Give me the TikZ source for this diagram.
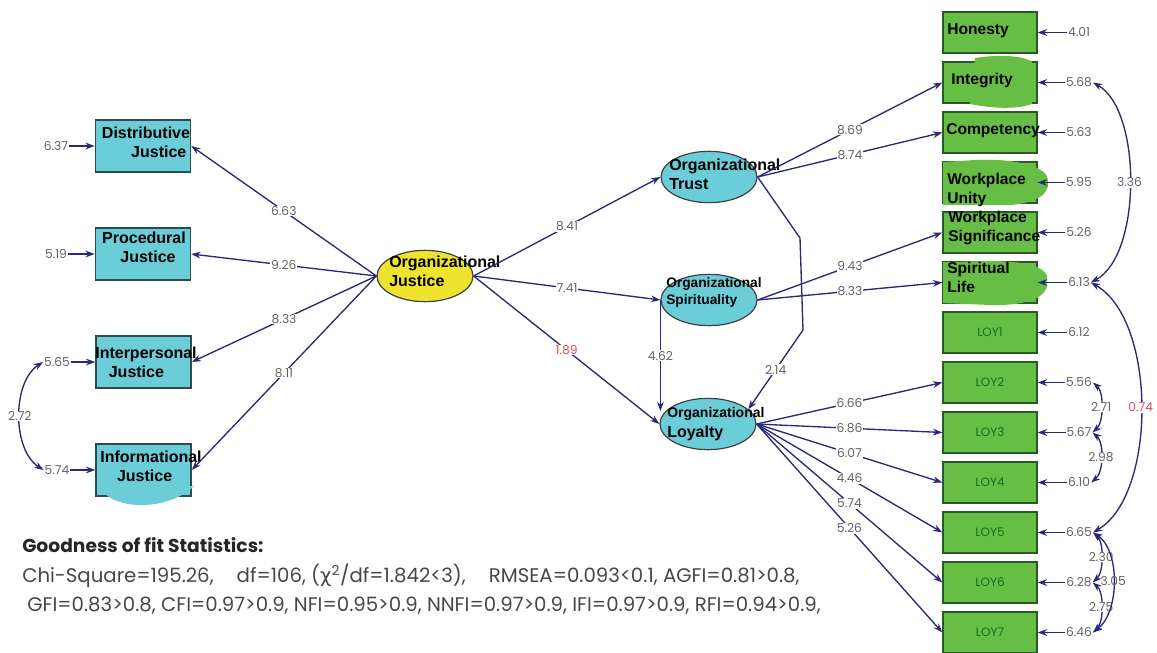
\documentclass[tikz,border=0pt]{standalone}
\usepackage{fontspec}
\setmainfont{Liberation Sans}
\newfontfamily\numf{Poppins}
\newfontfamily\grk{DejaVu Sans}
\usetikzlibrary{shapes.geometric,arrows.meta,calc}
\definecolor{navy}{RGB}{40,40,125}
\definecolor{cyanf}{RGB}{106,205,216}
\definecolor{cyanb}{RGB}{45,75,80}
\definecolor{yel}{RGB}{238,228,48}
\definecolor{grf}{RGB}{102,190,68}
\definecolor{grb}{RGB}{40,90,40}
\definecolor{grt}{RGB}{20,110,35}
\definecolor{numc}{RGB}{100,100,100}
\definecolor{redn}{RGB}{225,80,80}
\begin{document}
\begin{tikzpicture}[x=0.75pt,y=-0.75pt,
  cbox/.style={draw=cyanb, line width=1.1pt, fill=cyanf, minimum width=71.25pt, minimum height=39pt, inner sep=0},
  gbox/.style={draw=grb, line width=1pt, fill=grf, minimum width=70.5pt, minimum height=30.75pt, inner sep=0},
  lv/.style={ellipse, draw=black!75, line width=0.9pt, fill=cyanf, minimum width=72pt, minimum height=38.5pt, inner sep=0},
  jt/.style={font=\bfseries\fontsize{12}{14.5}\selectfont, align=center, inner sep=0},
  lt/.style={font=\bfseries\fontsize{12}{14.5}\selectfont, align=left, inner sep=0, anchor=west},
  st/.style={font=\bfseries\fontsize{10.3}{12.8}\selectfont, align=left, inner sep=0, anchor=west},
  gt/.style={font=\bfseries\fontsize{11.7}{14.3}\selectfont, align=left, inner sep=0, anchor=west},
  loyt/.style={font=\numf\fontsize{9}{10}\selectfont, text=grt, inner sep=0},
  num/.style={font=\numf\fontsize{9.2}{10}\selectfont, text=numc, fill=white, inner sep=0.6pt},
  arr/.style={draw=navy, line width=1pt, -{Stealth[length=7pt,width=5pt]}},
  dbl/.style={draw=navy, line width=1pt, {Stealth[length=7pt,width=5pt]}-{Stealth[length=7pt,width=5pt]}},
  stat/.style={font=\numf\fontsize{14.8}{16}\selectfont, text=black!72, anchor=west, inner sep=0}
]
\useasboundingbox[fill=white] (0,0) rectangle (1157,653);

% ---------- left indicator boxes ----------
\node[cbox] (dj)  at (143,146) {};
\node[cbox] (pj)  at (143,254) {};
\node[cbox] (ipj) at (143.5,362) {};
\node[cbox] (inj) at (143.5,470) {};
\fill[cyanf] (100,488) .. controls (115,512) and (170,510) .. (194,486) -- cycle;
\node[jt] (djt)  at (146,142) {Distributive\\\hspace*{1.6em}Justice};
\node[jt] (pjt)  at (144,247) {Procedural\\\hspace*{0.5em}Justice};
\node[jt] (ipjt) at (146,362) {Interpersonal\\Justice\hspace*{1.2em}};
\node[jt] (injt) at (151,466) {Informational\\Justice\hspace*{0.8em}};

% ---------- latent variables ----------
\node[lv, fill=yel] (oj) at (425,276) {};
\node[lv] (tr) at (709,177) {};
\node[lv] (sp) at (709,300) {};
\node[lv] (lo) at (708,424) {};
\node[lt] (ojt) at (389,271) {Organizational\\Justice};
\node[lt] (trt) at (669,174) {Organizational\\Trust};
\node[st] (spt) at (666,292) {Organizational\\Spirituality};
\node[st, font=\bfseries\fontsize{10.5}{12}\selectfont] (lot1) at (667,414) {Organizational};
\node[lt] (lot2) at (667,433) {Loyalty};

% ---------- right indicator boxes ----------
\foreach \n/\k in {ho/0,in/1,co/2,wu/3,ws/4,sl/5,l1/6,l2/7,l3/8,l4/9,l5/10,l6/11,l7/12}{
  \node[gbox] (\n) at (990,32.5+50*\k) {};
}
% green highlight blobs
\fill[grf] (975,58) .. controls (1000,54) and (1025,56) .. (1032,62) -- (1032,104) .. controls (1015,110) and (990,108) .. (970,104) -- cycle;
\fill[grf] (975,160) .. controls (1020,158) and (1050,168) .. (1048,182) .. controls (1050,196) and (1030,206) .. (1000,205) -- (943,205) -- (943,162) -- cycle;
\fill[grf] (960,262) .. controls (1020,258) and (1050,266) .. (1047,280) .. controls (1050,296) and (1030,306) .. (990,305) -- (943,303) -- (943,262) -- cycle;
\node[gt] (hot) at (947,31) {Honesty};
\node[gt] (int) at (951,80) {Integrity};
\node[gt] (cot) at (946,131) {Competency};
\node[gt] (wut) at (947,190) {Workplace\\Unity};
\node[gt] (wst) at (948,228) {Workplace\\ Significance};
\node[gt] (slt) at (947,277.5) {Spiritual\\Life};
\foreach \n/\t in {l1/LOY1,l2/LOY2,l3/LOY3,l4/LOY4,l5/LOY5,l6/LOY6,l7/LOY7}{
  \node[loyt] (\n t) at (\n) {\t};
}

% ---------- error terms ----------
\node[num] (e637) at (56,146) {6.37};
\node[num] (e519) at (56,254) {5.19};
\node[num] (e565) at (57,362) {5.65};
\node[num] (e574) at (57,470) {5.74};
\draw[arr] (e637) -- (dj);
\draw[arr] (e519) -- (pj);
\draw[arr] (e565) -- (ipj);
\draw[arr] (e574) -- (inj);
\draw[dbl] (e565.west) .. controls (12,382) and (12,450) .. node[num] (c272) {2.72} (e574.west);

\foreach \n/\v in {ho/4.01,in/5.68,co/5.63,wu/5.95,ws/5.26,sl/6.13,l1/6.12,l2/5.56,l3/5.67,l4/6.10,l5/6.65,l6/6.28,l7/6.46}{
  \node[num] (e\n) at ($(\n)+(89,0)$) {\v};
  \draw[arr] (e\n) -- (\n);
}
\draw[dbl] (ein.east) .. controls (1142,110) and (1142,255) .. node[num] (c336) {3.36} (esl.east);
\draw[dbl] (esl.east) .. controls (1157,320) and (1157,495) .. node[num, text=redn] (c074) {0.74} (el5.east);
\draw[dbl] (el2.east) .. controls (1104,392) and (1104,422) .. node[num] (c271) {2.71} (el3.east);
\draw[dbl] (el3.east) .. controls (1104,442) and (1104,472) .. node[num] (c298) {2.98} (el4.east);
\draw[dbl] (el5.east) .. controls (1104,542) and (1104,572) .. node[num] (c230) {2.30} (el6.east);
\draw[dbl] (el6.east) .. controls (1104,592) and (1104,622) .. node[num] (c275) {2.75} (el7.east);
\draw[dbl] (el5.east) .. controls (1120,550) and (1120,612) .. node[num, fill=none] (c305) {3.05} (el7.east);

% ---------- structural paths ----------
\draw[arr] (oj.west) -- node[num] (p663) {6.63} (dj.east);
\draw[arr] (oj.west) -- node[num] (p926) {9.26} (pj.east);
\draw[arr] (oj.west) -- node[num] (p833) {8.33} (ipj.east);
\draw[arr] (oj.west) -- node[num] (p811) {8.11} (inj.east);
\draw[arr] (oj.east) -- node[num] (p841) {8.41} (tr.west);
\draw[arr] (oj.east) -- node[num] (p741) {7.41} (sp.west);
\draw[arr] (oj.east) -- node[num, text=redn] (p189) {1.89} (lo.west);
\draw[arr] (sp.west) -- node[num] (p462) {4.62} (sp.west |- lo.163);
\coordinate (b1) at (800,238);
\coordinate (b2) at (803,330);
\draw[arr] (tr.east) -- (b1) -- (b2) -- node[num] (p214) {2.14} (lo.20);
\draw[arr] (tr.east) -- node[num] (p869) {8.69} (in.west);
\draw[arr] (tr.east) -- node[num] (p874) {8.74} (co.west);
\draw[arr] (sp.east) -- node[num] (p943) {9.43} (ws.west);
\draw[arr] (sp.east) -- node[num] (p833b) {8.33} (sl.west);
\draw[arr] (lo.east) -- node[num] (p666) {6.66} (l2.west);
\draw[arr] (lo.east) -- node[num] (p686) {6.86} (l3.west);
\draw[arr] (lo.east) -- node[num] (p607) {6.07} (l4.west);
\draw[arr] (lo.east) -- node[num] (p446) {4.46} (l5.west);
\draw[arr] (lo.east) -- node[num] (p574) {5.74} (l6.west);
\draw[arr] (lo.east) -- node[num] (p526) {5.26} (l7.west);

% ---------- fit statistics ----------
\node[stat, font=\numf\bfseries\fontsize{14}{16}\selectfont, text=black!85] (gof) at (22,545) {Goodness of fit Statistics:};
\node[stat] (s1) at (22,576) {Chi-Square=195.26,\hspace{0.9em} df=106, ({\grk χ}\textsuperscript{2}/df=1.842<3),\hspace{0.9em} RMSEA=0.093<0.1, AGFI=0.81>0.8,};
\node[stat] (s2) at (27,606) {GFI=0.83>0.8, CFI=0.97>0.9, NFI=0.95>0.9, NNFI=0.97>0.9, IFI=0.97>0.9, RFI=0.94>0.9,};
\end{tikzpicture}
\end{document}
